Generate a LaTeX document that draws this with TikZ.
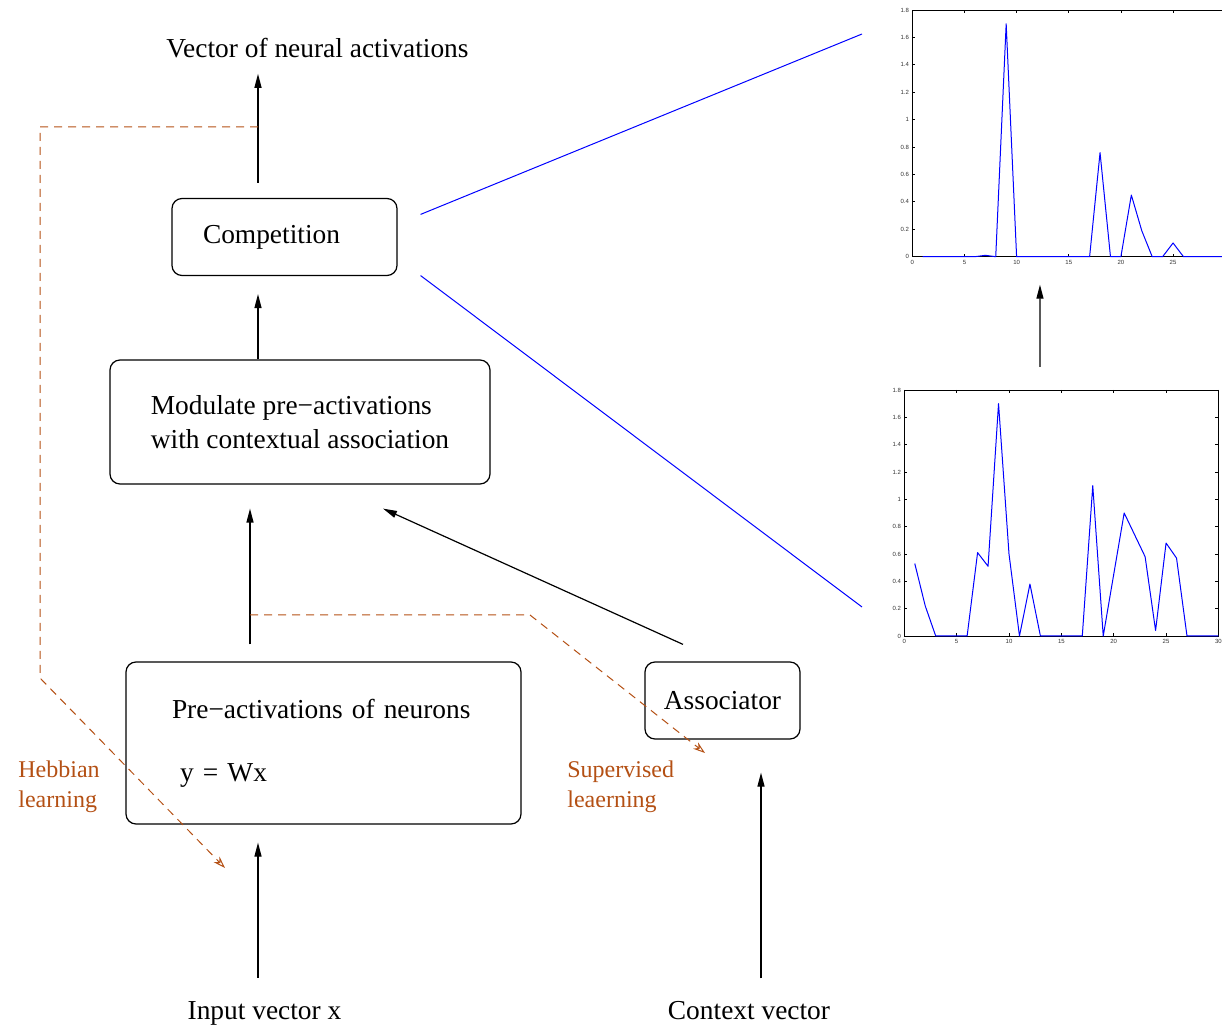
\documentclass[tikz,border=0pt]{standalone}
\usepackage{fontspec}
\setmainfont{Liberation Serif}
\setsansfont{Liberation Sans}
\usetikzlibrary{arrows.meta}
\definecolor{learncol}{RGB}{180,80,20}

\begin{document}
\begin{tikzpicture}[
  x=0.5pt, y=-0.5pt,
  every node/.style={inner sep=0pt},
  font=\fontsize{13.7}{17}\selectfont,
  block/.style={draw, line width=0.6pt, rounded corners=5pt, align=left},
  lbl/.style={inner sep=0pt},
  learnlbl/.style={inner sep=0pt, align=left, text=learncol,
    font=\fontsize{12}{15}\selectfont},
  arrow/.style={draw, line width=0.6pt, -{Triangle[length=7pt,width=3.5pt]}},
  learn/.style={draw=learncol, line width=0.5pt, dash pattern=on 4pt off 3pt,
    -{Stealth[open,length=6pt,width=4pt]}},
  zoomline/.style={draw=blue, line width=0.5pt},
  data/.style={draw=blue, line width=0.5pt, line join=round},
  axes/.style={draw, line width=0.4pt},
  ticklbl/.style={inner sep=0pt, text=black!80,
    font=\sffamily\fontsize{3}{3.5}\selectfont}]

  \path[use as bounding box, clip] (0,0) rectangle (1222,1026);

  % ---- blocks -------------------------------------------------------------
  \node[block, minimum width=112.5pt, minimum height=38.5pt,
        text width=81.5pt, inner xsep=15.5pt] (comp) at (284.5,237) {Competition};
  \node[block, minimum width=190pt, minimum height=62pt] (mod) at (300,422)
    {Modulate pre−activations\\with contextual association};
  \node[block, minimum width=197.5pt, minimum height=81pt,
        text width=151.5pt, inner xsep=23pt] (pre) at (323.5,743)
    {Pre−activations of neurons\\[14.5pt]\hspace*{4pt}y = Wx};
  \node[block, minimum width=77.5pt, minimum height=38.5pt] (assoc) at (722.5,700.5)
    {Associator};

  % ---- labels -------------------------------------------------------------
  \node[lbl, anchor=base] (vec) at (317.5,58)  {Vector of neural activations};
  \node[lbl, anchor=base] (inp) at (264.5,1019) {Input vector x};
  \node[lbl, anchor=base] (ctx) at (749,1019)   {Context vector};
  \node[learnlbl, anchor=west] (hebb) at (18,787)  {Hebbian\\learning};
  \node[learnlbl, anchor=west] (sup)  at (567,787) {Supervised\\leaerning};

  % ---- columns and free ends ---------------------------------------------
  \coordinate (colA) at (258,0);
  \coordinate (colB) at (250,0);
  \coordinate (colC) at (761,0);
  \coordinate (zoomA) at (862,34);
  \coordinate (zoomB) at (862,607);
  \coordinate (hebbtap) at (258,127);
  \coordinate (hebbend) at (225,868);
  \coordinate (suptap) at (250,615);
  \coordinate (supend) at (705,753);

  % ---- arrows -------------------------------------------------------------
  \draw[arrow, shorten <=7.5pt, shorten >=7.5pt] (comp.north -| colA) -- (vec.south -| colA);
  \draw[arrow, shorten >=9pt] (mod.north -| colA) -- (comp.south -| colA);
  \draw[arrow, shorten <=8.5pt, shorten >=12pt] (pre.north -| colB) -- (mod.south -| colB);
  \draw[arrow, shorten <=11.5pt, shorten >=9pt] (inp.north -| colA) -- (pre.south -| colA);
  \draw[arrow, shorten <=11pt, shorten >=16.5pt] (ctx.north -| colC) -- (assoc.south -| colC);
  \draw[arrow] ([xshift=-19.75pt, yshift=8.5pt]assoc.north) -- ([xshift=41.5pt, yshift=-12pt]mod.south);

  % learning paths
  \draw[learn] (hebbtap) -- ++(-218,0) -- ++(0,551) -- (hebbend);
  \draw[learn] (suptap) -- ++(280,0) -- (supend);

  % zoom lines to the plots
  \draw[zoomline] ([xshift=11.5pt, yshift=-8.25pt]comp.north east) -- (zoomA);
  \draw[zoomline] ([xshift=11.5pt, yshift=0.25pt]comp.south east) -- (zoomB);

  % ---- plot after competition ---------------------------------------------
  \begin{scope}[shift={(912.3,256.7)}, x=5.215pt, y=68.5pt]
    \draw[axes] (0,0) rectangle (30,1.8);
    \foreach \t in {0,5,...,30} {
      \draw[axes] (\t,0) -- ++(0,1.5pt);
      \draw[axes] (\t,1.8) -- ++(0,-1.5pt);
    }
    % the 30 falls off the page edge
    \foreach \t in {0,5,...,25}
      \node[ticklbl, anchor=north, yshift=-1.5pt] (tax\t) at (\t,0) {\t};
    \foreach \v [count=\i] in {0,0.2,0.4,0.6,0.8,1,1.2,1.4,1.6,1.8} {
      \draw[axes] (0,\v) -- ++(1.5pt,0);
      \draw[axes] (30,\v) -- ++(-1.5pt,0);
      \node[ticklbl, anchor=east, xshift=-1.5pt] (tay\i) at (0,\v) {\v};
    }
    \draw[data] plot coordinates {(1,0) (2,0) (3,0) (4,0) (5,0) (6,0) (7,0.01)
      (8,0) (9,1.7) (10,0) (11,0) (12,0) (13,0) (14,0) (15,0) (16,0) (17,0)
      (18,0.76) (19,0) (20,0) (21,0.45) (22,0.19) (23,0) (24,0) (25,0.1)
      (26,0) (27,0) (28,0) (29,0) (30,0)};
    \coordinate (topfoot) at (12.24,0);
  \end{scope}

  % ---- plot of pre-activations --------------------------------------------
  \begin{scope}[shift={(904.3,636)}, x=5.235pt, y=68.35pt]
    \draw[axes] (0,0) rectangle (30,1.8);
    \foreach \t in {0,5,...,30} {
      \draw[axes] (\t,0) -- ++(0,1.5pt);
      \draw[axes] (\t,1.8) -- ++(0,-1.5pt);
      \node[ticklbl, anchor=north, yshift=-1.5pt] (tbx\t) at (\t,0) {\t};
    }
    \foreach \v [count=\i] in {0,0.2,0.4,0.6,0.8,1,1.2,1.4,1.6,1.8} {
      \draw[axes] (0,\v) -- ++(1.5pt,0);
      \draw[axes] (30,\v) -- ++(-1.5pt,0);
      \node[ticklbl, anchor=east, xshift=-1.5pt] (tby\i) at (0,\v) {\v};
    }
    \draw[data] plot coordinates {(1,0.53) (2,0.22) (3,0) (4,0) (5,0) (6,0)
      (7,0.61) (8,0.51) (9,1.7) (10,0.6) (11,0) (12,0.38) (13,0) (14,0)
      (15,0) (16,0) (17,0) (18,1.1) (19,0) (20,0.45) (21,0.9) (22,0.74)
      (23,0.58) (24,0.04) (25,0.68) (26,0.57) (27,0) (28,0) (29,0) (30,0)};
    \coordinate (bothead) at (12.96,1.8);
  \end{scope}

  \draw[arrow, shorten <=11.5pt, shorten >=14pt] (bothead) -- (topfoot);
\end{tikzpicture}
\end{document}
